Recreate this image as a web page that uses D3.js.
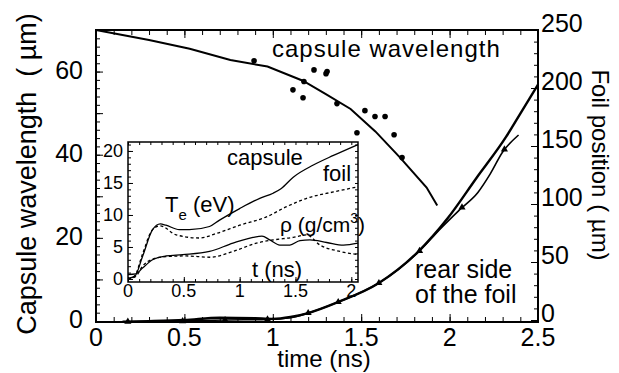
<!DOCTYPE html>
<html>
<head>
<meta charset="utf-8">
<script src="https://cdnjs.cloudflare.com/ajax/libs/d3/7.8.5/d3.min.js"></script>
<style>
  body { margin: 0; background: #fff; }
  svg text { font-family: "Liberation Sans", Arial, Helvetica, sans-serif; fill: #000; }
  .domain { display: none; }
  .tick line { stroke: #000; stroke-width: 1; }
</style>
</head>
<body>
<script>
// main axes
var timeTicks = [0, 0.5, 1, 1.5, 2, 2.5];
var wavelengthTicks = [0, 20, 40, 60];
var foilTicks = [0, 50, 100, 150, 200, 250];

// capsule wavelength (um): simulation line + measured dots
var wavelengthLine = [[0, 70], [0.3, 67.6], [0.53, 65.5], [0.76, 62.8], [0.97, 61.2], [1.17, 57.8],
  [1.3, 54.6], [1.44, 51.0], [1.58, 45.6], [1.72, 39.3], [1.87, 32.1], [1.93, 27.8]];
var wavelengthDots = [[0.894, 62.6], [1.114, 55.6], [1.171, 53.7], [1.176, 57.6], [1.233, 60.4],
  [1.307, 60.0], [1.301, 59.5], [1.363, 52.3], [1.521, 50.6], [1.578, 49.2], [1.635, 49.2],
  [1.476, 45.3], [1.686, 44.8], [1.731, 39.3]];

// foil position (um)
var foilRear = [[0.15, -1.5], [0.3, -1], [0.5, 0], [0.7, 2], [0.9, 1.5], [1.0, 1], [1.1, 2.6],
  [1.2, 6], [1.37, 15.5], [1.6, 31.9], [1.82, 58.6], [1.99, 87.9], [2.15, 122], [2.32, 158],
  [2.4, 178], [2.5, 203]];
var foilSim = [[0.18, -1.5], [0.49, -1], [0.73, 0], [0.97, 0.5], [1.1, 2], [1.2, 6], [1.37, 15.5],
  [1.6, 31.9], [1.83, 59.5], [1.95, 79], [2.06, 95.5], [2.16, 110], [2.23, 126], [2.3, 144.8],
  [2.39, 159.5]];
var foilMarkers = [[0.18, -1.5], [0.49, -1], [0.73, 0], [0.97, 0.5], [1.2, 6], [1.37, 15.5],
  [1.6, 31.9], [1.83, 59.5], [2.07, 97], [2.31, 147]];

// inset
var insetXTicks = [0, 0.5, 1, 1.5, 2];
var insetYTicks = [0, 5, 10, 15, 20];
var teCapsule = [[0, 0.1], [0.06, 0.4], [0.13, 3.5], [0.22, 7.7], [0.29, 8.6], [0.34, 8.4], [0.46, 7.7],
  [0.55, 7.7], [0.73, 8.2], [0.82, 9.2], [1.0, 11], [1.18, 12.6], [1.3, 13.4], [1.37, 14.1],
  [1.48, 15.9], [1.66, 17.8], [1.84, 19.3], [2.06, 21]];
var teFoil = [[0, 0], [0.06, 0.5], [0.13, 3.9], [0.22, 7.7], [0.29, 8.3], [0.43, 6.9], [0.64, 6.4],
  [0.79, 7.1], [1.0, 8.4], [1.24, 9.7], [1.42, 11.3], [1.6, 12.6], [1.84, 13.6], [2.06, 14.4]];
var rhoCapsule = [[0, 0.7], [0.07, 0.8], [0.13, 1.7], [0.22, 3.0], [0.34, 3.6], [0.49, 3.8], [0.73, 4.3],
  [0.94, 5.6], [1.12, 6.5], [1.2, 6.7], [1.27, 6.1], [1.36, 5.3], [1.45, 5.3], [1.54, 6.0],
  [1.63, 6.1], [1.78, 5.7], [1.93, 5.3], [2.06, 5.6]];
var rhoFoil = [[0, 0], [0.07, 0.4], [0.13, 2.0], [0.22, 3.1], [0.34, 3.5], [0.52, 3.6], [0.73, 3.4],
  [0.94, 4.3], [1.15, 5.6], [1.3, 6.1], [1.48, 6.5], [1.6, 6.9], [1.72, 5.3], [1.9, 4.3], [2.06, 3.8]];

var width = 619, height = 373;
var svg = d3.select("body").append("svg")
    .attr("width", width)
    .attr("height", height);

// frame edges
var fx0 = 96, fx1 = 538, fy0 = 30, fy1 = 322;

var x = d3.scaleLinear().domain([0, 2.5]).range([fx0, fx1]);
var yL = d3.scaleLinear().domain([0, 70]).range([321, fy0]);
var yR = d3.scaleLinear().domain([0, 250]).range([320, fy0]);

// ticks (inward)
function ticks(g, axisFn, scale, vals, len) {
  g.call(axisFn(scale).tickValues(vals).tickSize(-len).tickFormat(""));
}
var minorT = d3.range(0, 2.501, 0.1).map(function(d) { return +d.toFixed(2); });
ticks(svg.append("g").attr("transform", "translate(0," + fy1 + ")"), d3.axisBottom, x, minorT, 5);
ticks(svg.append("g").attr("transform", "translate(0," + fy1 + ")"), d3.axisBottom, x, timeTicks, 8);
ticks(svg.append("g").attr("transform", "translate(0," + fy0 + ")"), d3.axisTop, x, minorT, 5);
ticks(svg.append("g").attr("transform", "translate(0," + fy0 + ")"), d3.axisTop, x, timeTicks, 8);
ticks(svg.append("g").attr("transform", "translate(" + fx0 + ",0)"), d3.axisLeft, yL, d3.range(0, 70, 2), 4);
ticks(svg.append("g").attr("transform", "translate(" + fx0 + ",0)"), d3.axisLeft, yL, d3.range(0, 70, 10), 7);
ticks(svg.append("g").attr("transform", "translate(" + fx1 + ",0)"), d3.axisRight, yR, d3.range(0, 250, 10), 4);
ticks(svg.append("g").attr("transform", "translate(" + fx1 + ",0)"), d3.axisRight, yR, d3.range(0, 250, 50), 7);

svg.append("rect")
    .attr("x", fx0).attr("y", fy0)
    .attr("width", fx1 - fx0).attr("height", fy1 - fy0)
    .attr("fill", "none").attr("stroke", "#000").attr("stroke-width", 2);

// tick labels
svg.append("g").selectAll("text").data(timeTicks).enter().append("text")
    .attr("x", function(d) { return x(d); })
    .attr("y", 346)
    .attr("text-anchor", "middle")
    .style("font-size", "25px")
    .text(function(d) { return d; });
svg.append("g").selectAll("text").data(wavelengthTicks).enter().append("text")
    .attr("x", 83)
    .attr("y", function(d) { return yL(d) + 7; })
    .attr("text-anchor", "end")
    .style("font-size", "25px")
    .text(function(d) { return d; });
svg.append("g").selectAll("text").data(foilTicks).enter().append("text")
    .attr("x", 541)
    .attr("y", function(d) { return yR(d) + 2; })
    .style("font-size", "25px")
    .text(function(d) { return d; });

// axis titles
svg.append("text")
    .attr("transform", "translate(36,174) rotate(-90)")
    .attr("text-anchor", "middle")
    .style("font-size", "27px")
    .text("Capsule wavelength\u00a0\u00a0(\u00a0\u00b5m)");
svg.append("text")
    .attr("transform", "translate(592,165) rotate(90)")
    .attr("text-anchor", "middle")
    .style("font-size", "24px")
    .text("Foil position (\u00a0\u00b5m)");
svg.append("text")
    .attr("x", 324).attr("y", 367)
    .attr("text-anchor", "middle")
    .style("font-size", "24px")
    .text("time (ns)");

// capsule wavelength
var lineL = d3.line()
    .x(function(d) { return x(d[0]); })
    .y(function(d) { return yL(d[1]); });
svg.append("path").datum(wavelengthLine)
    .attr("d", lineL)
    .attr("fill", "none").attr("stroke", "#000").attr("stroke-width", 2);
svg.append("g").selectAll("circle").data(wavelengthDots).enter().append("circle")
    .attr("cx", function(d) { return x(d[0]); })
    .attr("cy", function(d) { return yL(d[1]); })
    .attr("r", 2.8)
    .attr("fill", "#000");

// foil position
var lineR = d3.line()
    .x(function(d) { return x(d[0]); })
    .y(function(d) { return yR(d[1]); })
    .curve(d3.curveMonotoneX);
svg.append("path").datum(foilSim)
    .attr("d", lineR)
    .attr("fill", "none").attr("stroke", "#000").attr("stroke-width", 1.6);
svg.append("path").datum(foilRear)
    .attr("d", lineR)
    .attr("fill", "none").attr("stroke", "#000").attr("stroke-width", 2.4);
svg.append("g").selectAll("path").data(foilMarkers).enter().append("path")
    .attr("d", d3.symbol().type(d3.symbolTriangle).size(22))
    .attr("transform", function(d) { return "translate(" + x(d[0]) + "," + yR(d[1]) + ")"; })
    .attr("fill", "#000");

svg.append("text").attr("x", 272).attr("y", 57)
    .style("font-size", "24px").style("letter-spacing", "1px")
    .text("capsule wavelength");
svg.append("text").attr("x", 415).attr("y", 278)
    .style("font-size", "25px")
    .text("rear side");
svg.append("text").attr("x", 415).attr("y", 303)
    .style("font-size", "25px")
    .text("of the foil");

// inset
var ix = d3.scaleLinear().domain([0, 2.06]).range([128, 358]);
var iy = d3.scaleLinear().domain([-0.47, 21.4]).range([282, 142]);
var inset = svg.append("g");
inset.append("rect")
    .attr("x", 128).attr("y", 142).attr("width", 230).attr("height", 140)
    .attr("fill", "#fff");
var iMinorX = d3.range(0, 2.06, 0.1).map(function(d) { return +d.toFixed(2); });
var iMinorY = d3.range(0, 22, 1);
ticks(inset.append("g").attr("transform", "translate(0,282)"), d3.axisBottom, ix, iMinorX, 3);
ticks(inset.append("g").attr("transform", "translate(0,282)"), d3.axisBottom, ix, insetXTicks, 5);
ticks(inset.append("g").attr("transform", "translate(0,142)"), d3.axisTop, ix, iMinorX, 3);
ticks(inset.append("g").attr("transform", "translate(128,0)"), d3.axisLeft, iy, iMinorY, 3);
ticks(inset.append("g").attr("transform", "translate(128,0)"), d3.axisLeft, iy, insetYTicks, 5);
ticks(inset.append("g").attr("transform", "translate(358,0)"), d3.axisRight, iy, iMinorY, 3);
inset.append("rect")
    .attr("x", 128).attr("y", 142).attr("width", 230).attr("height", 140)
    .attr("fill", "none").attr("stroke", "#000").attr("stroke-width", 1.5);

inset.append("g").selectAll("text").data(insetXTicks).enter().append("text")
    .attr("x", function(d) { return ix(d); })
    .attr("y", 297)
    .attr("text-anchor", "middle")
    .style("font-size", "18px")
    .text(function(d) { return d; });
inset.append("g").selectAll("text").data(insetYTicks).enter().append("text")
    .attr("x", 123)
    .attr("y", function(d) { return iy(d) + 6; })
    .attr("text-anchor", "end")
    .style("font-size", "18px")
    .text(function(d) { return d; });

var lineI = d3.line()
    .x(function(d) { return ix(d[0]); })
    .y(function(d) { return iy(d[1]); })
    .curve(d3.curveMonotoneX);
[teCapsule, rhoCapsule].forEach(function(s) {
  inset.append("path").datum(s).attr("d", lineI)
      .attr("fill", "none").attr("stroke", "#000").attr("stroke-width", 1.3);
});
[teFoil, rhoFoil].forEach(function(s) {
  inset.append("path").datum(s).attr("d", lineI)
      .attr("fill", "none").attr("stroke", "#000").attr("stroke-width", 1.3)
      .attr("stroke-dasharray", "3,2.5");
});

inset.append("text").attr("x", 227).attr("y", 165).style("font-size", "22px").text("capsule");
inset.append("text").attr("x", 323).attr("y", 181).style("font-size", "22px").text("foil");
var te = inset.append("text").attr("x", 165).attr("y", 212).style("font-size", "22px");
te.append("tspan").text("T");
te.append("tspan").attr("dy", 8).style("font-size", "15px").text("e");
te.append("tspan").attr("dy", -8).text(" (eV)");
var rho = inset.append("text").attr("x", 280).attr("y", 232).style("font-size", "21px");
rho.append("tspan").text("\u03c1 (g/cm");
rho.append("tspan").attr("dy", -9).style("font-size", "14px").text("3");
rho.append("tspan").attr("dy", 9).text(")");
inset.append("text").attr("x", 252).attr("y", 277).style("font-size", "22px").text("t (ns)");
</script>
</body>
</html>
